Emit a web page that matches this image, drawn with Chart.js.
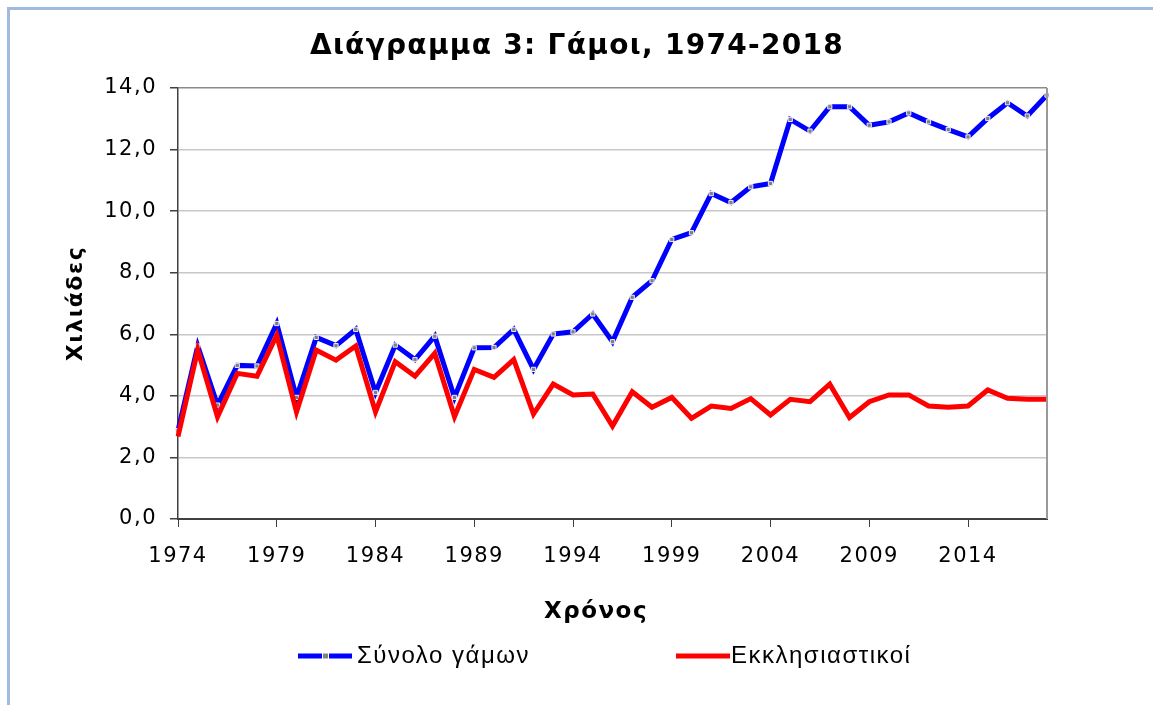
<!DOCTYPE html>
<html>
<head>
<meta charset="utf-8">
<script src="https://cdn.jsdelivr.net/npm/chart.js@4"></script>
<style>
    html, body { margin: 0; padding: 0; background: #ffffff; }
    canvas { display: block; }
</style>
</head>
<body>
<canvas id="marriagesChart" width="1153" height="705"></canvas>
<script>
// Years on the x axis
const years = [
    "1974", "1975", "1976", "1977", "1978", "1979", "1980", "1981", "1982", "1983",
    "1984", "1985", "1986", "1987", "1988", "1989", "1990", "1991", "1992", "1993",
    "1994", "1995", "1996", "1997", "1998", "1999", "2000", "2001", "2002", "2003",
    "2004", "2005", "2006", "2007", "2008", "2009", "2010", "2011", "2012", "2013",
    "2014", "2015", "2016", "2017", "2018"
];

// Total marriages (thousands)
const totalMarriages = [
    2.87, 5.62, 3.70, 4.99, 4.97, 6.35, 3.95, 5.90, 5.63, 6.16,
    4.11, 5.65, 5.18, 5.94, 3.95, 5.56, 5.57, 6.16, 4.86, 6.01,
    6.08, 6.66, 5.76, 7.20, 7.74, 9.08, 9.30, 10.57, 10.28, 10.79,
    10.90, 12.98, 12.60, 13.39, 13.39, 12.79, 12.90, 13.19, 12.90, 12.65,
    12.41, 13.01, 13.52, 13.09, 13.77
];

// Church marriages (thousands)
const churchMarriages = [
    2.68, 5.49, 3.32, 4.73, 4.64, 5.97, 3.48, 5.49, 5.16, 5.62,
    3.48, 5.11, 4.64, 5.38, 3.32, 4.86, 4.60, 5.18, 3.41, 4.38,
    4.03, 4.06, 3.02, 4.13, 3.63, 3.95, 3.27, 3.67, 3.59, 3.91,
    3.38, 3.89, 3.81, 4.38, 3.30, 3.81, 4.03, 4.03, 3.67, 3.63,
    3.67, 4.19, 3.92, 3.89, 3.89
];

// Tick labels
const xTickLabels = ["1974", "1979", "1984", "1989", "1994", "1999", "2004", "2009", "2014"];
const yTickValues = [0, 2, 4, 6, 8, 10, 12, 14];

const chartTitle = "Διάγραμμα 3: Γάμοι, 1974-2018";
const xTitle = "Χρόνος";
const yTitle = "Χιλιάδες";

const TEXT_SPACING = "1.5px";

function drawText(ctx, text, x, y, font, spacing, align) {
    ctx.save();
    ctx.fillStyle = "#000000";
    ctx.font = font;
    ctx.letterSpacing = spacing;
    ctx.textAlign = align || "center";
    ctx.textBaseline = "middle";
    ctx.fillText(text, x, y);
    ctx.restore();
}

// frame, titles, right border of the plot and the legend
const decorPlugin = {
    id: "decor",
    beforeUpdate(chart) {
        chart.ctx.letterSpacing = TEXT_SPACING;
    },
    beforeDraw(chart) {
        const ctx = chart.ctx;
        ctx.letterSpacing = TEXT_SPACING;
        ctx.save();
        ctx.strokeStyle = "#9fbbe0";
        ctx.lineWidth = 3;
        ctx.beginPath();
        ctx.moveTo(8.5, chart.height);
        ctx.lineTo(8.5, 8.5);
        ctx.lineTo(chart.width, 8.5);
        ctx.stroke();
        ctx.restore();
    },
    afterDraw(chart) {
        const ctx = chart.ctx;
        const area = chart.chartArea;
        ctx.save();
        ctx.strokeStyle = "#9a9a9a";
        ctx.lineWidth = 2;
        ctx.beginPath();
        ctx.moveTo(area.right, area.top);
        ctx.lineTo(area.right, area.bottom);
        ctx.stroke();
        ctx.restore();

        drawText(ctx, chartTitle, 577, 47, "bold 28px 'DejaVu Sans'", "1.3px");
        drawText(ctx, xTitle, 596, 612, "bold 23px 'DejaVu Sans'", "1.5px");

        // legend
        const items = [
            { ds: chart.data.datasets[0], x: 298, textX: 357 },
            { ds: chart.data.datasets[1], x: 676, textX: 731 }
        ];
        const y = 656;
        items.forEach(function (it) {
            ctx.save();
            ctx.strokeStyle = it.ds.borderColor;
            ctx.lineWidth = 5;
            ctx.lineCap = "butt";
            ctx.beginPath();
            ctx.moveTo(it.x, y);
            ctx.lineTo(it.x + 54, y);
            ctx.stroke();
            if (it.ds.pointRadius > 0) {
                ctx.fillStyle = it.ds.pointBackgroundColor;
                ctx.strokeStyle = "#ffffff";
                ctx.lineWidth = 1;
                ctx.fillRect(it.x + 25, y - 2.5, 5, 5);
                ctx.strokeRect(it.x + 24.5, y - 3, 6, 6);
            }
            ctx.restore();
            drawText(ctx, it.ds.label, it.textX, y, "24px 'Liberation Sans'", "1.5px", "left");
        });
        ctx.letterSpacing = TEXT_SPACING;
    }
};

document.addEventListener("DOMContentLoaded", function () {
    const ctx = document.getElementById("marriagesChart");

    new Chart(ctx, {
        type: "line",
        data: {
            labels: years,
            datasets: [{
                label: "Σύνολο γάμων",
                data: totalMarriages,
                borderColor: "#0000ff",
                borderWidth: 5,
                pointStyle: "rect",
                pointRadius: 3,
                pointBackgroundColor: "#808080",
                pointBorderColor: "rgba(255,255,255,0.9)",
                pointBorderWidth: 1,
                tension: 0,
                order: 1
            }, {
                label: "Εκκλησιαστικοί",
                data: churchMarriages,
                borderColor: "#ff0000",
                borderWidth: 5,
                pointRadius: 0,
                tension: 0,
                order: 0
            }]
        },
        options: {
            responsive: false,
            animation: false,
            events: [],
            layout: {
                padding: { left: 0, right: 106, top: 88, bottom: 80 }
            },
            plugins: {
                legend: { display: false },
                tooltip: { enabled: false },
                title: { display: false }
            },
            scales: {
                x: {
                    offset: false,
                    afterFit: function (scale) { scale.height = 106; },
                    border: { color: "#404040", width: 2 },
                    grid: {
                        drawOnChartArea: false,
                        tickLength: 8,
                        tickColor: function (c) {
                            return xTickLabels.includes(years[c.index]) ? "#404040" : "rgba(0,0,0,0)";
                        }
                    },
                    ticks: {
                        autoSkip: false,
                        maxRotation: 0,
                        padding: 17,
                        color: "#000000",
                        font: { family: "'DejaVu Sans'", size: 21 },
                        callback: function (value, index) {
                            return xTickLabels.includes(years[index]) ? years[index] : "";
                        }
                    }
                },
                y: {
                    min: 0,
                    max: 14,
                    afterFit: function (scale) { scale.width = 178; },
                    afterBuildTicks: function (scale) {
                        scale.ticks = yTickValues.map(function (v) { return { value: v }; });
                    },
                    border: { color: "#404040", width: 1.5 },
                    grid: {
                        tickLength: 8,
                        tickColor: "#404040",
                        lineWidth: 1.5,
                        color: function (c) {
                            return c.tick && c.tick.value === 14 ? "#8a8a8a" : "#c8c8c8";
                        }
                    },
                    ticks: {
                        padding: 13,
                        color: "#000000",
                        font: { family: "'DejaVu Sans'", size: 21 },
                        callback: function (value) {
                            return value.toFixed(1).replace(".", ",");
                        }
                    },
                    title: {
                        display: true,
                        text: yTitle,
                        color: "#000000",
                        font: { family: "'DejaVu Sans'", size: 22, weight: "bold" },
                        padding: { top: 63, bottom: 0 }
                    }
                }
            }
        },
        plugins: [decorPlugin]
    });
});
</script>
</body>
</html>
